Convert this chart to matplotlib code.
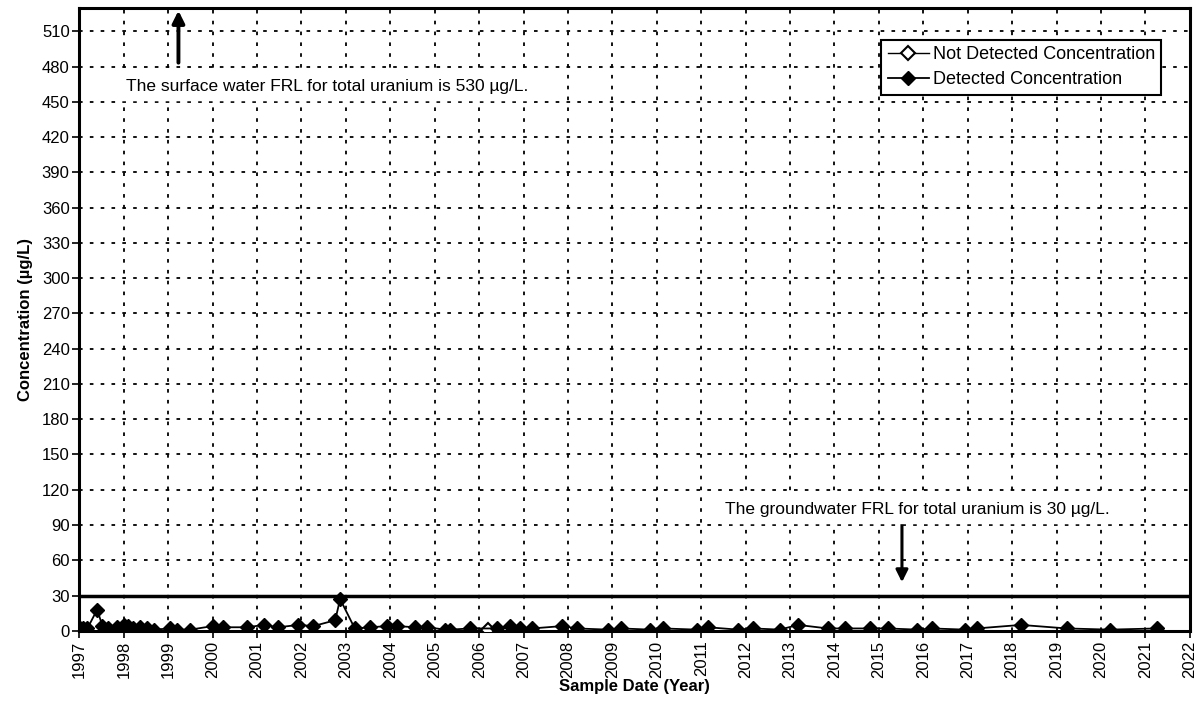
import numpy as np
import matplotlib
matplotlib.use('Agg')
from matplotlib import pyplot as plt

plt.rcParams['font.family'] = ['Liberation Sans', 'DejaVu Sans']

# detected results (decimal year, ug/L)
det_dates = [1997.0, 1997.08, 1997.18, 1997.4, 1997.52, 1997.65, 1997.85, 1998.0, 1998.1,
             1998.2, 1998.37, 1998.53, 1998.67, 1999.05, 1999.2, 1999.5, 2000.0, 2000.24,
             2000.78, 2001.15, 2001.48, 2001.93, 2002.27, 2002.76, 2002.87, 2003.2, 2003.55,
             2003.93, 2004.15, 2004.56, 2004.83, 2005.24, 2005.35, 2005.8, 2006.4, 2006.7,
             2006.92, 2007.19, 2007.87, 2008.2, 2008.9, 2009.2, 2009.85, 2010.14, 2010.9,
             2011.15, 2011.83, 2012.17, 2012.77, 2013.18, 2013.85, 2014.24, 2014.8, 2015.2,
             2015.86, 2016.19, 2016.94, 2017.2, 2018.2, 2019.23, 2020.2, 2021.26]
det_vals = [3, 2.5, 2, 18, 4, 2, 3, 5, 4,
            2, 3, 2, 1, 2, 1, 1, 4, 3,
            3, 5, 3, 5, 4, 9, 27, 2, 3,
            4, 4, 3, 3, 1, 1, 2, 2, 4,
            2, 2, 4, 2, 1, 2, 1, 2, 1,
            3, 1, 2, 1, 5, 2, 2, 2, 2,
            1, 2, 1, 2, 5, 2, 1, 2]

# not detected results
nd_dates = [2006.2]
nd_vals = [0.3]

year_ticks = np.arange(1997, 2023)
conc_ticks = np.arange(0, 511, 30)
gw_frl = 30

fig, ax = plt.subplots(figsize=(12.03, 7.16), dpi=100)
fig.subplots_adjust(left=0.066, right=0.989, top=0.989, bottom=0.119)

ax.plot(nd_dates, nd_vals, color='black', lw=1, marker='D', markersize=7.5,
        markerfacecolor='white', markeredgecolor='black', markeredgewidth=1.5,
        label='Not Detected Concentration', zorder=3)
ax.plot(det_dates, det_vals, color='black', lw=1.3, marker='D', markersize=7.5,
        markerfacecolor='black', markeredgecolor='black', label='Detected Concentration', zorder=4)

# groundwater FRL line
ax.axhline(gw_frl, color='black', lw=2.5, zorder=2)

ax.set_xlim(1997, 2022)
ax.set_ylim(0, 530)
ax.set_xticks(year_ticks)
ax.set_xticklabels([str(y) for y in year_ticks], rotation=90, fontsize=12)
ax.set_yticks(conc_ticks)
ax.set_yticklabels([str(v) for v in conc_ticks], fontsize=12)
ax.tick_params(direction='out', length=5, width=1.2, color='black', pad=2)
ax.grid(True, color='black', linestyle=(0, (2, 4)), lw=1.3)
ax.set_axisbelow(True)
for s in ax.spines.values():
    s.set_linewidth(2.2)

ax.set_xlabel('Sample Date (Year)', fontsize=12, fontweight='bold', labelpad=1)
ax.set_ylabel('Concentration (µg/L)', fontsize=12, fontweight='bold', labelpad=6)

# annotations
ax.annotate('', xy=(1999.23, 530), xytext=(1999.23, 481),
            arrowprops=dict(arrowstyle='-|>', color='black', lw=2.8, mutation_scale=18))
ax.text(1998.05, 463, 'The surface water FRL for total uranium is 530 µg/L.', fontsize=12.5,
        va='center', ha='left', backgroundcolor='white')
ax.annotate('', xy=(2015.52, 39), xytext=(2015.52, 93),
            arrowprops=dict(arrowstyle='-|>', color='black', lw=2.2, mutation_scale=18))
ax.text(2011.54, 103, 'The groundwater FRL for total uranium is 30 µg/L.', fontsize=12.5,
        va='center', ha='left', backgroundcolor='white')

leg = ax.legend(loc='upper right', bbox_to_anchor=(0.9825, 0.963), fontsize=13, fancybox=False,
                framealpha=1, edgecolor='black', handlelength=2.3, handletextpad=0.2,
                borderpad=0.35, labelspacing=0.45)
leg.get_frame().set_linewidth(1.5)

plt.savefig('out.png', dpi=100)
